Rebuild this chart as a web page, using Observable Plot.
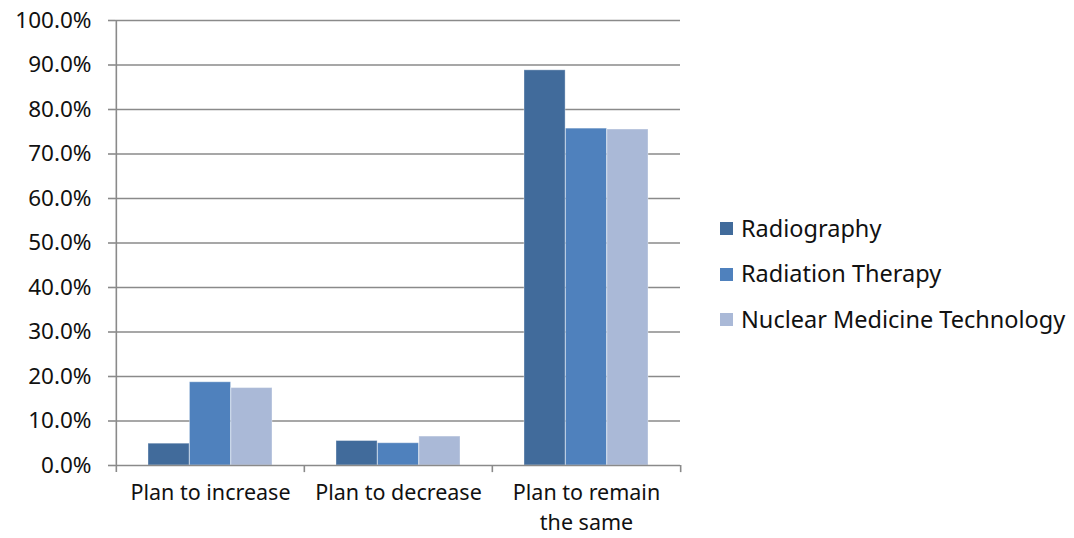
<!DOCTYPE html>
<html>
<head>
<meta charset="utf-8">
<script src="https://cdn.jsdelivr.net/npm/d3@7"></script>
<script src="https://cdn.jsdelivr.net/npm/@observablehq/plot@0.6"></script>
<style>
  html, body { margin: 0; padding: 0; background: #fff; }
  #wrap { position: relative; width: 1074px; height: 538px; font-family: "Noto Sans", sans-serif; }
  #chart { position: absolute; left: 0; top: 0; }
  #legend { position: absolute; left: 720px; top: 205px; font-size: 23.5px; color: #111; white-space: nowrap; }
  .row { display: flex; align-items: center; height: 45.5px; }
  .sw { width: 13px; height: 13px; margin-right: 8px; margin-top: 2px; }
</style>
</head>
<body>
<div id="wrap"><div id="chart"></div><div id="legend"></div></div>
<script>
const categories = ["Plan to increase", "Plan to decrease", "Plan to remain the same"];
const categoryLabels = ["Plan to increase", "Plan to decrease", "Plan to remain\nthe same"];
const seriesNames = ["Radiography", "Radiation Therapy", "Nuclear Medicine Technology"];
const radiography = [4.9, 5.5, 88.8];
const radiationTherapy = [18.7, 5.0, 75.7];
const nuclearMedicine = [17.4, 6.5, 75.5];
const yTicks = [0, 10, 20, 30, 40, 50, 60, 70, 80, 90, 100];
const colors = ["#416b9b", "#4f81bd", "#aab9d7"];

const seriesValues = [radiography, radiationTherapy, nuclearMedicine];

const W = 700, H = 538;
const margin = {left: 115, right: 20, top: 20, bottom: 73};
const step = (W - margin.left - margin.right) / categories.length;
const outer = 32;
const barW = (step - 2 * outer) / 3;

const barMarks = seriesValues.map((vals, i) =>
  Plot.barY(categories.map((c, j) => ({category: c, value: vals[j]})), {
    x: "category",
    y: "value",
    fill: colors[i],
    stroke: "#ffffff",
    strokeOpacity: 0.35,
    strokeWidth: 1,
    insetLeft: outer + barW * i,
    insetRight: step - outer - barW * (i + 1)
  })
);

const plot = Plot.plot({
  width: W,
  height: H,
  marginLeft: margin.left,
  marginRight: margin.right,
  marginTop: margin.top,
  marginBottom: margin.bottom,
  style: {fontFamily: "Noto Sans, sans-serif", fontSize: "22px", color: "#111", background: "#fff"},
  x: {domain: categories, padding: 0, label: null},
  y: {domain: [0, 100], label: null},
  marks: [
    Plot.ruleY(yTicks.slice(1), {stroke: "#8a8a8a", strokeWidth: 1.6}),
    ...barMarks,
    Plot.ruleY([0], {stroke: "#8a8a8a", strokeWidth: 1.6}),
    Plot.ruleX([categories[0]], {x: d => d, dx: -step / 2, y1: 100, y2: -1.6, stroke: "#8a8a8a", strokeWidth: 1.6}),
    Plot.ruleX(categories.slice(1), {x: d => d, dx: -step / 2, y1: 0, y2: -1.6, stroke: "#8a8a8a", strokeWidth: 1.6}),
    Plot.ruleX([categories[categories.length - 1]], {x: d => d, dx: step / 2, y1: 0, y2: -1.6, stroke: "#8a8a8a", strokeWidth: 1.6}),
    Plot.axisY({ticks: yTicks, tickSize: 7, tickPadding: 17, stroke: "#8a8a8a", strokeWidth: 1.6,
      tickFormat: d => d.toFixed(1) + "%", fill: "#111", fontSize: 22.5}),
    Plot.axisX({tickSize: 0, tickPadding: 14, lineHeight: 1.36, fontSize: 21.5, fill: "#111",
      tickFormat: d => categoryLabels[categories.indexOf(d)]})
  ]
});
document.getElementById("chart").appendChild(plot);

const legend = document.getElementById("legend");
seriesNames.forEach((name, i) => {
  const row = document.createElement("div");
  row.className = "row";
  const sw = document.createElement("div");
  sw.className = "sw";
  sw.style.background = colors[i];
  const t = document.createElement("span");
  t.textContent = name;
  row.appendChild(sw);
  row.appendChild(t);
  legend.appendChild(row);
});
</script>
</body>
</html>
